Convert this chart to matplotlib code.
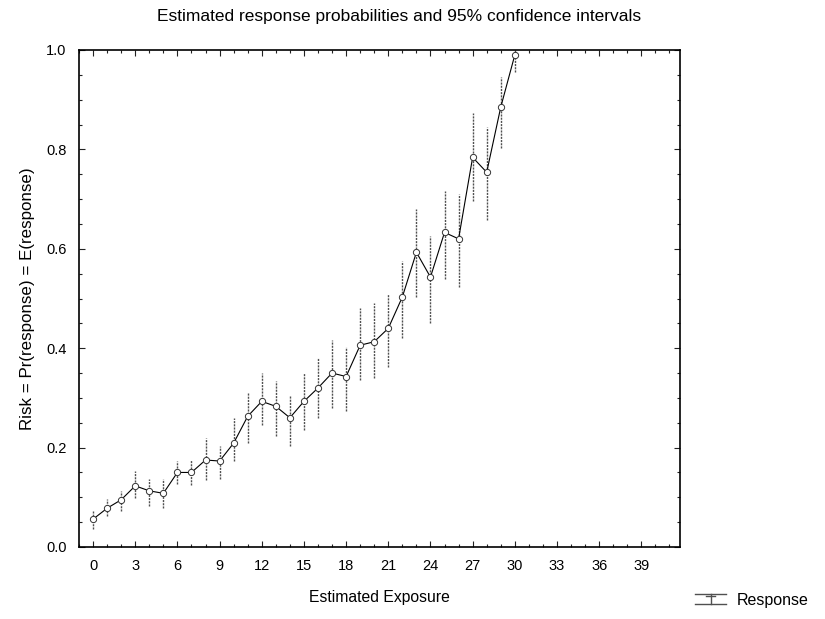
import matplotlib
matplotlib.use("Agg")
import matplotlib.pyplot as plt
import numpy as np
from matplotlib.lines import Line2D
from matplotlib.ticker import MultipleLocator, FormatStrFormatter

plt.rcParams['font.family'] = ['Liberation Sans', 'DejaVu Sans']

# exposure levels and estimated response probabilities with 95% CI
exposure = list(range(0, 31))
risk = [0.056, 0.078, 0.095, 0.123, 0.113, 0.108, 0.150, 0.150, 0.175, 0.173,
        0.209, 0.263, 0.293, 0.283, 0.260, 0.293, 0.320, 0.350, 0.343, 0.406,
        0.413, 0.440, 0.503, 0.593, 0.543, 0.633, 0.620, 0.784, 0.754, 0.885,
        0.990]
ci_low = [0.036, 0.062, 0.073, 0.099, 0.083, 0.079, 0.127, 0.125, 0.135, 0.136,
          0.173, 0.210, 0.246, 0.223, 0.203, 0.236, 0.260, 0.280, 0.273, 0.336,
          0.340, 0.363, 0.420, 0.503, 0.450, 0.539, 0.523, 0.697, 0.657, 0.803,
          0.956]
ci_high = [0.072, 0.096, 0.113, 0.153, 0.136, 0.136, 0.174, 0.176, 0.220, 0.203,
           0.260, 0.310, 0.350, 0.333, 0.306, 0.350, 0.380, 0.416, 0.403, 0.480,
           0.490, 0.510, 0.576, 0.680, 0.626, 0.717, 0.710, 0.873, 0.845, 0.946,
           1.000]

BAR_COLOR = '#505050'
BAR_STYLE = (0, (1.5, 0.8))


class CIHandler:
    """Legend key: whisker with a line across the top and bottom."""
    def legend_artist(self, legend, orig_handle, fontsize, handlebox):
        x0, y0 = handlebox.xdescent, handlebox.ydescent
        w, h = handlebox.width, handlebox.height
        kw = dict(color=BAR_COLOR, lw=1.0, transform=handlebox.get_transform())
        parts = [
            Line2D([x0, x0 + w], [y0 + 0.1 * h, y0 + 0.1 * h], **kw),
            Line2D([x0, x0 + w], [y0 + 0.9 * h, y0 + 0.9 * h], **kw),
            Line2D([x0 + w / 2, x0 + w / 2], [y0 + 0.1 * h, y0 + 0.9 * h], **kw),
            Line2D([x0 + 0.35 * w, x0 + 0.65 * w], [y0 + 0.75 * h, y0 + 0.75 * h], **kw),
        ]
        for p in parts:
            handlebox.add_artist(p)
        return parts[0]


x = np.array(exposure)
y = np.array(risk)
yerr = np.vstack([y - np.array(ci_low), np.array(ci_high) - y])

fig = plt.figure(figsize=(8.25, 6.19), dpi=100)
ax = fig.add_axes([79/825, 72/619, 601/825, 497/619])

# CI bars first, then the connecting line with open markers
eb = ax.errorbar(x, y, yerr=yerr, fmt='none', ecolor=BAR_COLOR, elinewidth=1.0,
                 capsize=0, zorder=2)
for lc in eb[2]:
    lc.set_linestyle(BAR_STYLE)
ax.plot(x, y, color='black', lw=0.8, marker='o', markersize=4.5,
        markerfacecolor='white', markeredgecolor='#333333', markeredgewidth=0.7,
        zorder=3)

ax.set_xlim(-1, 41.75)
ax.set_ylim(0, 1.0)
ax.xaxis.set_major_locator(MultipleLocator(3))
ax.xaxis.set_minor_locator(MultipleLocator(1))
ax.yaxis.set_major_locator(MultipleLocator(0.2))
ax.yaxis.set_minor_locator(MultipleLocator(0.05))
ax.yaxis.set_major_formatter(FormatStrFormatter('%.1f'))
ax.tick_params(which='both', direction='in', top=True, right=True, labelsize=10.5,
               width=0.8, color='#222222')
ax.tick_params(which='major', length=4, pad=9)
ax.tick_params(which='minor', length=2)
for sp in ax.spines.values():
    sp.set_linewidth(1.2)

ax.set_xlabel('Estimated Exposure', fontsize=11.3, labelpad=12)
ax.set_ylabel('Risk = Pr(response) = E(response)', fontsize=12.2, labelpad=8)
fig.text(399/825, 1 - 16/619,
         'Estimated response probabilities and 95% confidence intervals',
         ha='center', va='center', fontsize=12.5)

# legend sits outside, bottom right
fig.legend([object()], ['Response'], handler_map={object: CIHandler()},
           loc='center left', frameon=False,
           bbox_to_anchor=(681/825, 1 - 601/619), fontsize=11.5,
           handlelength=1.9, handleheight=0.8, handletextpad=0.7)

fig.savefig('out.png', dpi=100)
